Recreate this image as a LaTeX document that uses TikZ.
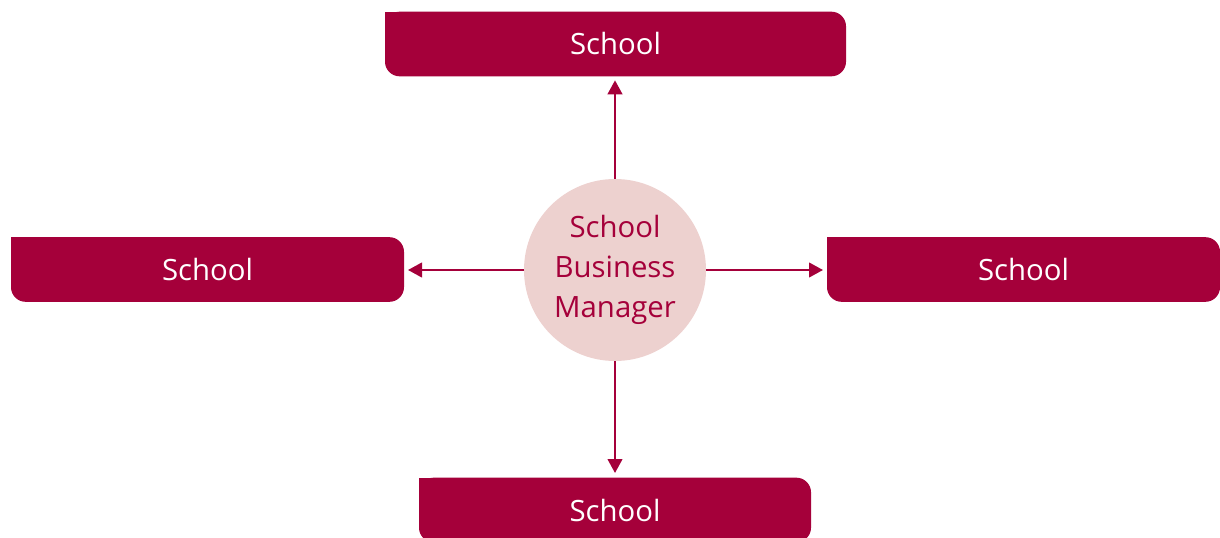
\documentclass[tikz,border=0pt]{standalone}
\usepackage{fontspec}
\setmainfont{Open Sans}
\usetikzlibrary{arrows.meta}
\definecolor{wine}{HTML}{A5003A}
\definecolor{blush}{HTML}{EDD1CF}
\tikzset{
  schoolbox/.style={fill=wine, text=white, rounded corners=11pt, inner sep=0pt, outer sep=0pt,
    minimum height=48.5pt, font=\fontsize{22}{26}\selectfont},
  hub/.style={circle, fill=blush, text=wine, inner sep=0pt, outer sep=0pt, minimum size=136.5pt,
    align=center, font=\fontsize{22}{30}\selectfont},
  link/.style={wine, line width=1.6pt, -{Triangle[width=11pt,length=10.5pt]}},
}
\newcommand{\sqcorner}[1]{\fill[wine] (#1.north west) rectangle ++(20,20);}
\begin{document}
\begin{tikzpicture}[x=0.75pt, y=-0.75pt]
\useasboundingbox (0,0) rectangle (1220,538);
\node[hub] (m) at (615,270) {School\\Business\\Manager};
\node[schoolbox, minimum width=345.75pt] (t) at (615.5,44) {School};
\node[schoolbox, minimum width=294.75pt] (l) at (207.5,269.5) {School};
\node[schoolbox, minimum width=294.75pt] (r) at (1023.5,269.5) {School};
\node[schoolbox, minimum width=294pt] (b) at (615,510) {School};
\sqcorner{t}\sqcorner{l}\sqcorner{r}\sqcorner{b}
\draw[link] (m.north) -- ([yshift=-3pt]t.south -| m.north);
\draw[link] (m.west) -- ([xshift=3pt]l.east |- m.west);
\draw[link] (m.east) -- ([xshift=-3pt]r.west |- m.east);
\draw[link] (m.south) -- ([yshift=3.5pt]b.north -| m.south);
\end{tikzpicture}
\end{document}
